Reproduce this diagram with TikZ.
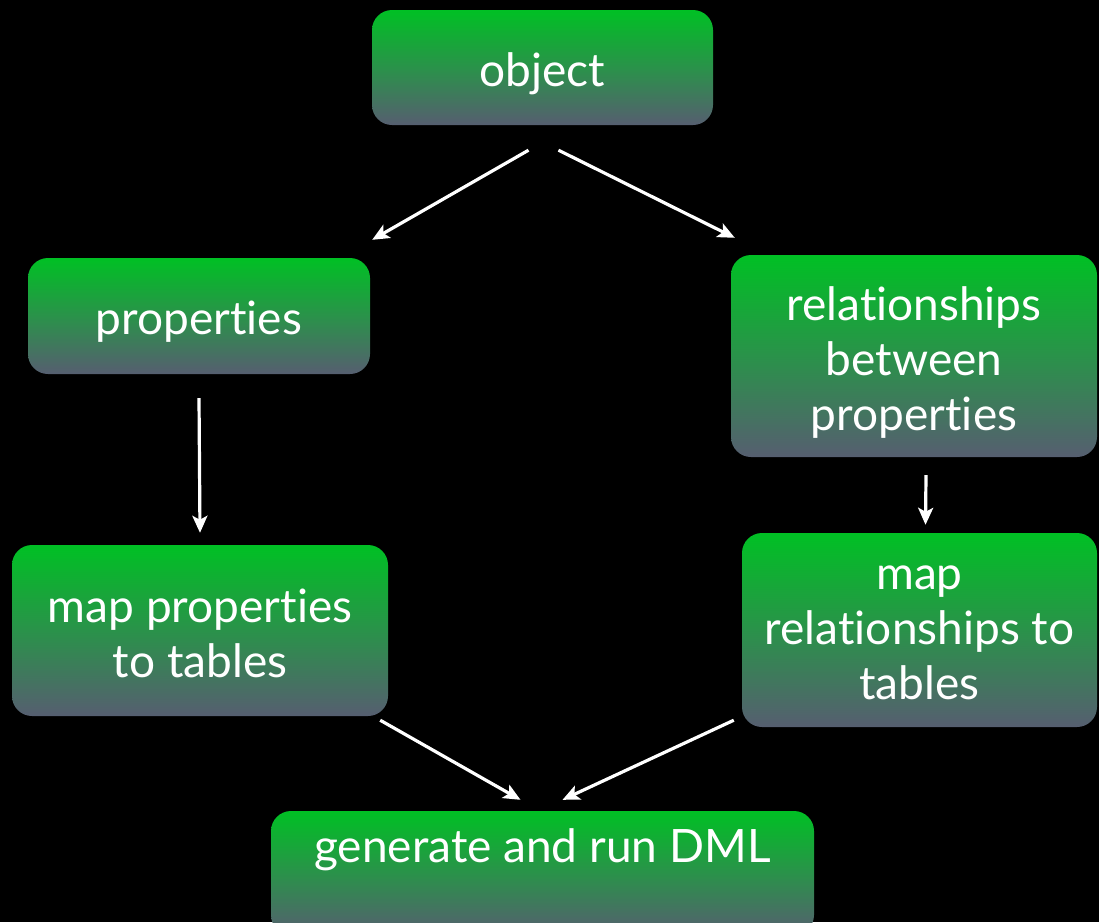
\documentclass[tikz,border=0pt]{standalone}
\usepackage{fontspec}
\setmainfont{Lato}[Ligatures=NoCommon]
\usetikzlibrary{arrows.meta,positioning}
\definecolor{boxtop}{RGB}{0,192,36}
\definecolor{boxmid}{RGB}{42,146,74}
\definecolor{boxbot}{RGB}{86,94,112}
\tikzset{
  bloc/.style={rounded corners=20pt,inner sep=0pt,
    top color=boxtop,bottom color=boxbot,middle color=boxmid},
  txt/.style={align=center,text=white,inner sep=0pt,yshift=-6pt,
    font=\fontsize{46}{55}\selectfont},
  fl/.style={-{Stealth[length=17pt,width=15pt,inset=4pt]},white,line width=3.2pt},
}
\begin{document}
\begin{tikzpicture}[x=1pt,y=-1pt]
  \fill[black] (0,0) rectangle (1099,922);
  \useasboundingbox (0,0) rectangle (1099,922);
  \clip (0,0) rectangle (1099,922);
  \node[bloc,minimum width=341pt,minimum height=115pt,
    label={[txt]center:object}] (obj) at (542.5,67.5) {};
  \node[bloc,minimum width=342pt,minimum height=116pt,
    label={[txt]center:properties}] (props) at (199,316) {};
  \node[bloc,minimum width=366pt,minimum height=202pt,
    label={[txt]center:relationships\\between\\properties}] (rels) at (914,356) {};
  \node[bloc,minimum width=376pt,minimum height=171pt,
    label={[txt,yshift=3pt]center:map properties\\to tables}] (mapp) at (200,630.5) {};
  \node[bloc,minimum width=355pt,minimum height=194pt,
    label={[txt,yshift=3pt]center:map\\relationships to\\tables}] (mapr) at (919.5,630) {};
  \node[bloc,minimum width=543pt,minimum height=124pt,
    label={[txt,yshift=29pt]center:generate and run DML}] (dml) at (542.5,873) {};
  \draw[fl] ([xshift=-14pt,yshift=-25pt]obj.south) -- ([xshift=2pt,yshift=18pt]props.north east);
  \draw[fl] ([xshift=16pt,yshift=-25pt]obj.south) -- ([xshift=4pt,yshift=17pt]rels.north west);
  \draw[fl] ([yshift=-24pt]props.south) -- ([yshift=12pt]mapp.north);
  \draw[fl] ([xshift=12pt,yshift=-18pt]rels.south) -- ([xshift=6pt,yshift=8pt]mapr.north);
  \draw[fl] ([xshift=-8pt,yshift=-4pt]mapp.south east) -- ([xshift=-22pt,yshift=11pt]dml.north);
  \draw[fl] ([xshift=-8pt,yshift=7pt]mapr.south west) -- ([xshift=20pt,yshift=11pt]dml.north);
\end{tikzpicture}
\end{document}
